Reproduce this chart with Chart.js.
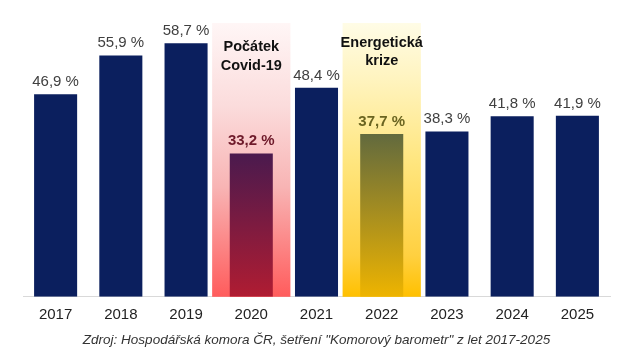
<!DOCTYPE html>
<html>
<head>
<meta charset="utf-8">
<script src="https://cdn.jsdelivr.net/npm/chart.js@4/dist/chart.umd.min.js"></script>
<style>
html,body{margin:0;padding:0;background:#fff;}
#wrap{width:640px;height:357px;position:relative;}
</style>
</head>
<body>
<div id="wrap"><canvas id="c" width="640" height="357"></canvas></div>
<script>
const categories = ['2017','2018','2019','2020','2021','2022','2023','2024','2025'];
const values = [46.9, 55.9, 58.7, 33.2, 48.4, 37.7, 38.3, 41.8, 41.9];
const highlightCategories = ['2020', '2022'];
const highlightTitles = [['Počátek', 'Covid-19'], ['Energetická', 'krize']];
const sourceText = 'Zdroj: Hospodářská komora ČR, šetření "Komorový barometr" z let 2017-2025';

const NAVY = '#0b1f5e';
const barGrad = { '2020': ['#4a1a4e', '#b01c32'], '2022': ['#626a3e', '#eeb400'] };
const bandStops = {
  '2020': [[0, '#fff6f6'], [0.3, '#fbdcdc'], [0.6, '#f8b4b4'], [1, '#ff5c5c']],
  '2022': [[0, '#fffce6'], [0.2, '#fff4c0'], [0.5, '#ffe680'], [0.85, '#ffd040'], [1, '#ffc000']]
};
const labelColors = { '2020': '#6e1a2a', '2022': '#6a6420' };
const titleTop = { '2020': [47, 66], '2022': [43, 61] };
const FONT = '"Liberation Sans", Arial, sans-serif';

function fmt(v){ return v.toFixed(1).replace('.', ',') + ' %'; }

const bandPlugin = {
  id: 'bands',
  beforeDatasetsDraw(chart){
    const {ctx, chartArea, scales} = chart;
    const x = scales.x;
    const w = (chartArea.right - chartArea.left) / categories.length * 1.2;
    highlightCategories.forEach((cat) => {
      const i = categories.indexOf(cat);
      const cx = x.getPixelForValue(i);
      const g = ctx.createLinearGradient(0, chartArea.top, 0, chartArea.bottom);
      bandStops[cat].forEach(s => g.addColorStop(s[0], s[1]));
      ctx.save();
      ctx.fillStyle = g;
      ctx.fillRect(cx - w/2, chartArea.top, w, chartArea.bottom - chartArea.top);
      ctx.restore();
    });
  },
  afterDatasetsDraw(chart){
    const {ctx} = chart;
    const meta = chart.getDatasetMeta(0);
    ctx.save();
    ctx.textAlign = 'center';
    ctx.textBaseline = 'alphabetic';
    meta.data.forEach((bar, i) => {
      const cat = categories[i];
      const hl = highlightCategories.includes(cat);
      ctx.font = (hl ? 'bold ' : '') + '15px ' + FONT;
      ctx.fillStyle = labelColors[cat] || '#404040';
      ctx.fillText(fmt(values[i]), bar.x, bar.y - 8);
    });
    highlightCategories.forEach((cat, k) => {
      const i = categories.indexOf(cat);
      const bar = meta.data[i];
      ctx.font = 'bold 14.5px ' + FONT;
      ctx.fillStyle = '#111';
      ctx.textBaseline = 'middle';
      highlightTitles[k].forEach((line, j) => {
        ctx.fillText(line, bar.x, titleTop[cat][j]);
      });
    });
    ctx.restore();
  }
};

function barColor(context){
  const i = context.dataIndex;
  const cat = categories[i];
  if (!barGrad[cat]) return NAVY;
  const chart = context.chart;
  const {chartArea} = chart;
  if (!chartArea) return NAVY;
  const y = chart.scales.y;
  const top = y.getPixelForValue(values[i]);
  const g = chart.ctx.createLinearGradient(0, top, 0, chartArea.bottom);
  g.addColorStop(0, barGrad[cat][0]);
  g.addColorStop(1, barGrad[cat][1]);
  return g;
}

new Chart(document.getElementById('c'), {
  type: 'bar',
  data: {
    labels: categories,
    datasets: [{
      data: values,
      backgroundColor: barColor,
      borderWidth: 0,
      categoryPercentage: 1,
      barPercentage: 0.66
    }]
  },
  plugins: [bandPlugin],
  options: {
    responsive: false,
    animation: false,
    devicePixelRatio: 1,
    layout: { padding: { left: 23, right: 30, top: 23, bottom: 0 } },
    plugins: {
      legend: { display: false },
      tooltip: { enabled: false },
      title: {
        display: true,
        position: 'bottom',
        text: sourceText,
        color: '#333',
        font: { family: FONT, size: 13.5, style: 'italic', weight: 'normal' },
        padding: { top: 7, bottom: 9 }
      }
    },
    scales: {
      x: {
        grid: { display: false },
        border: { display: true, color: '#d9d9d9', width: 1 },
        ticks: { color: '#222', padding: 1, font: { family: FONT, size: 15 } }
      },
      y: {
        display: false,
        min: 0,
        max: 63.4
      }
    }
  }
});
</script>
</body>
</html>
